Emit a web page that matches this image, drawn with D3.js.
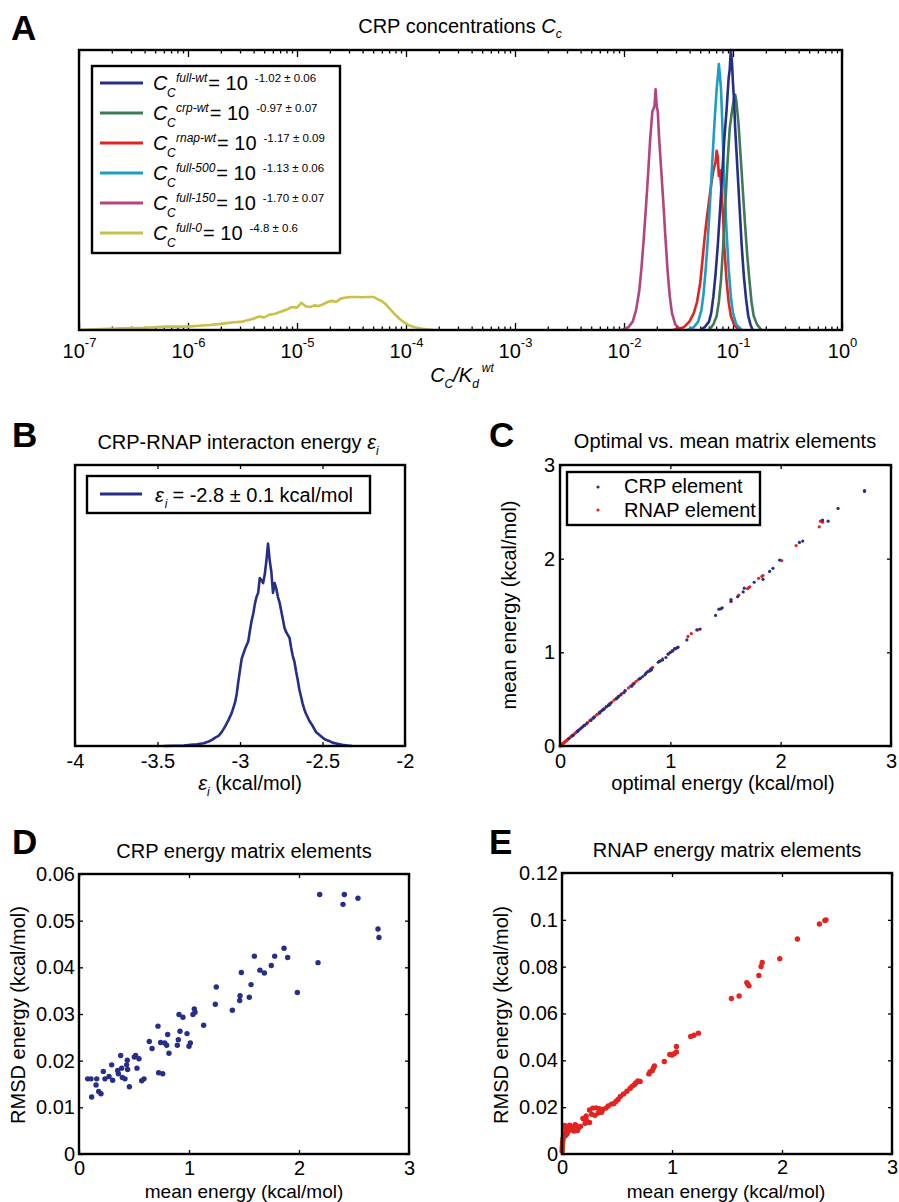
<!DOCTYPE html>
<html>
<head>
<meta charset="utf-8">
<script src="https://cdnjs.cloudflare.com/ajax/libs/d3/7.8.5/d3.min.js"></script>
<style>
  body { margin: 0; background: #fff; }
  svg { font-family: "Liberation Sans", Arial, Helvetica, sans-serif; }
</style>
</head>
<body>
<svg id="fig" width="899" height="1202"></svg>
<script>
// ---- data ----

// A: posterior of CRP concentration, x = log10(Cc/Kd), y = normalised density
const concNames = ["full-wt", "crp-wt", "rnap-wt", "full-500", "full-150", "full-0"];
const concExponents = ["-1.02 \u00b1 0.06", "-0.97 \u00b1 0.07", "-1.17 \u00b1 0.09",
                       "-1.13 \u00b1 0.06", "-1.70 \u00b1 0.07", "-4.8 \u00b1 0.6"];
const concTicks = [-7, -6, -5, -4, -3, -2, -1, 0];

const fullWt = [[-1.30,0.00],[-1.26,0.01],[-1.22,0.03],[-1.20,0.06],[-1.18,0.12],[-1.16,0.20],
  [-1.14,0.30],[-1.12,0.42],[-1.10,0.55],[-1.08,0.68],[-1.06,0.78],[-1.05,0.84],[-1.04,0.90],
  [-1.03,0.93],[-1.02,1.00],[-1.01,0.96],[-1.00,0.88],[-0.99,0.82],[-0.98,0.72],[-0.96,0.58],
  [-0.94,0.44],[-0.92,0.30],[-0.90,0.19],[-0.88,0.11],[-0.86,0.05],[-0.84,0.02],[-0.82,0.00]];
const crpWt = [[-1.22,0.00],[-1.18,0.02],[-1.15,0.05],[-1.13,0.10],[-1.11,0.18],[-1.09,0.30],
  [-1.07,0.45],[-1.05,0.60],[-1.03,0.72],[-1.01,0.78],[-0.99,0.83],[-0.98,0.84],[-0.97,0.82],
  [-0.96,0.78],[-0.95,0.74],[-0.93,0.62],[-0.91,0.50],[-0.89,0.38],[-0.87,0.27],[-0.85,0.18],
  [-0.83,0.10],[-0.81,0.05],[-0.78,0.02],[-0.74,0.00]];
const rnapWt = [[-1.55,0.00],[-1.45,0.01],[-1.40,0.03],[-1.36,0.06],[-1.33,0.10],[-1.30,0.17],
  [-1.28,0.25],[-1.26,0.33],[-1.24,0.40],[-1.22,0.46],[-1.20,0.52],[-1.18,0.57],[-1.16,0.60],
  [-1.15,0.64],[-1.14,0.62],[-1.13,0.55],[-1.12,0.57],[-1.11,0.52],[-1.10,0.46],[-1.09,0.40],
  [-1.08,0.30],[-1.06,0.18],[-1.04,0.10],[-1.02,0.05],[-0.99,0.02],[-0.95,0.00]];
const full500 = [[-1.42,0.00],[-1.36,0.01],[-1.32,0.03],[-1.29,0.07],[-1.27,0.13],[-1.25,0.22],
  [-1.23,0.33],[-1.21,0.46],[-1.19,0.60],[-1.17,0.74],[-1.16,0.80],[-1.15,0.86],[-1.14,0.90],
  [-1.13,0.95],[-1.12,0.91],[-1.11,0.86],[-1.10,0.76],[-1.09,0.64],[-1.08,0.52],[-1.06,0.36],
  [-1.04,0.22],[-1.02,0.12],[-1.00,0.06],[-0.97,0.02],[-0.92,0.00]];
const full150 = [[-2.02,0.00],[-1.96,0.01],[-1.92,0.03],[-1.89,0.07],[-1.86,0.14],[-1.84,0.22],
  [-1.82,0.32],[-1.80,0.43],[-1.78,0.55],[-1.76,0.68],[-1.74,0.78],[-1.72,0.80],[-1.71,0.86],
  [-1.70,0.80],[-1.69,0.78],[-1.68,0.70],[-1.66,0.58],[-1.64,0.46],[-1.62,0.33],[-1.60,0.21],
  [-1.58,0.12],[-1.56,0.06],[-1.53,0.02],[-1.48,0.00]];
const full0 = [[-7.00,0.000],[-6.80,0.003],[-6.60,0.006],[-6.40,0.008],[-6.20,0.012],[-6.00,0.012],
  [-5.90,0.015],[-5.80,0.018],[-5.70,0.022],[-5.60,0.027],[-5.50,0.030],[-5.40,0.040],[-5.35,0.048],
  [-5.30,0.045],[-5.25,0.055],[-5.20,0.058],[-5.15,0.065],[-5.10,0.072],[-5.05,0.082],[-5.00,0.080],
  [-4.96,0.097],[-4.92,0.085],[-4.88,0.082],[-4.84,0.088],[-4.80,0.086],[-4.76,0.092],[-4.72,0.100],
  [-4.68,0.104],[-4.64,0.100],[-4.60,0.112],[-4.55,0.116],[-4.50,0.118],[-4.45,0.118],[-4.40,0.117],
  [-4.35,0.118],[-4.30,0.118],[-4.26,0.110],[-4.22,0.103],[-4.18,0.090],[-4.14,0.072],[-4.10,0.055],
  [-4.06,0.040],[-4.02,0.028],[-3.98,0.018],[-3.92,0.010],[-3.85,0.004],[-3.75,0.000]];

// B: CRP-RNAP interaction energy posterior, [energy, normalised density]
const epsTicks = [-4, -3.5, -3, -2.5, -2];
const epsCurve = [[-3.46,0.000],[-3.40,0.001],[-3.34,0.002],[-3.30,0.004],[-3.26,0.006],[-3.22,0.010],
  [-3.19,0.016],[-3.17,0.022],[-3.15,0.030],[-3.13,0.036],[-3.11,0.050],[-3.09,0.070],[-3.07,0.092],
  [-3.05,0.118],[-3.03,0.155],[-3.02,0.185],[-3.01,0.230],[-3.00,0.270],[-2.99,0.310],[-2.97,0.345],
  [-2.95,0.372],[-2.94,0.410],[-2.93,0.445],[-2.92,0.470],[-2.91,0.505],[-2.90,0.530],[-2.89,0.545],
  [-2.88,0.598],[-2.87,0.590],[-2.86,0.580],[-2.85,0.610],[-2.84,0.660],[-2.83,0.720],[-2.82,0.660],
  [-2.81,0.620],[-2.80,0.545],[-2.79,0.580],[-2.78,0.560],[-2.77,0.530],[-2.76,0.510],[-2.75,0.480],
  [-2.74,0.450],[-2.73,0.420],[-2.72,0.405],[-2.70,0.385],[-2.69,0.350],[-2.68,0.320],[-2.67,0.300],
  [-2.66,0.265],[-2.65,0.235],[-2.64,0.200],[-2.63,0.175],[-2.62,0.150],[-2.61,0.130],[-2.60,0.115],
  [-2.58,0.090],[-2.56,0.072],[-2.54,0.050],[-2.52,0.040],[-2.50,0.030],[-2.48,0.022],[-2.46,0.018],
  [-2.44,0.012],[-2.41,0.008],[-2.38,0.004],[-2.35,0.002],[-2.32,0.000]];

// C/D/E: matrix elements, [optimal energy, mean energy, RMSD energy]
const energyTicks = [0, 1, 2, 3];
const crpRmsdTicks = [0, 0.01, 0.02, 0.03, 0.04, 0.05, 0.06];
const rnapRmsdTicks = [0, 0.02, 0.04, 0.06, 0.08, 0.1, 0.12];

const crpElements = [
  [0.08,0.079,0.0161],[0.11,0.109,0.0161],[0.12,0.115,0.0122],[0.16,0.161,0.0161],[0.16,0.155,0.0148],
  [0.18,0.179,0.0134],[0.20,0.200,0.0129],[0.22,0.221,0.0177],[0.24,0.236,0.0161],[0.28,0.273,0.0166],
  [0.30,0.297,0.0191],[0.31,0.306,0.0158],[0.36,0.352,0.0179],[0.36,0.358,0.0172],[0.38,0.379,0.0211],
  [0.39,0.388,0.0184],[0.40,0.394,0.0164],[0.42,0.418,0.0161],[0.44,0.433,0.0191],[0.44,0.439,0.0201],
  [0.45,0.442,0.0181],[0.46,0.458,0.0144],[0.51,0.503,0.0208],[0.52,0.515,0.0211],[0.53,0.527,0.0184],
  [0.55,0.545,0.0204],[0.58,0.570,0.0157],[0.59,0.591,0.0161],[0.65,0.639,0.0241],[0.67,0.664,0.0226],
  [0.72,0.718,0.0274],[0.73,0.724,0.0174],[0.75,0.742,0.0239],[0.77,0.761,0.0172],[0.78,0.779,0.0238],
  [0.80,0.797,0.0233],[0.82,0.806,0.0256],[0.83,0.818,0.0216],[0.89,0.894,0.0233],[0.90,0.903,0.0245],
  [0.91,0.909,0.0299],[0.93,0.918,0.0263],[0.96,0.945,0.0293],[0.98,0.982,0.0258],[1.00,1.000,0.0231],
  [1.02,1.012,0.0238],[1.04,1.036,0.0299],[1.06,1.048,0.0311],[1.07,1.055,0.0304],[1.15,1.133,0.0276],
  [1.24,1.239,0.0321],[1.27,1.248,0.0358],[1.41,1.394,0.0308],[1.44,1.461,0.0329],[1.46,1.464,0.0339],
  [1.47,1.476,0.0389],[1.55,1.548,0.0336],[1.55,1.564,0.0363],[1.61,1.594,0.0424],[1.66,1.645,0.0394],
  [1.67,1.685,0.0388],[1.76,1.748,0.0404],[1.84,1.779,0.0424],[1.90,1.864,0.0441],[1.93,1.897,0.0421],
  [1.99,1.985,0.0346],[2.17,2.173,0.0410],[2.20,2.188,0.0556],[2.38,2.412,0.0556],[2.43,2.400,0.0535],
  [2.52,2.536,0.0548],[2.76,2.718,0.0482],[2.76,2.727,0.0464]];

const rnapElements = [
  [2.36,2.40,0.1000],[2.38,2.39,0.0997],[2.35,2.34,0.0982],[2.14,2.14,0.0918],[2.01,1.98,0.0834],
  [1.84,1.82,0.0818],[1.83,1.81,0.0801],[1.80,1.79,0.0762],[1.72,1.70,0.0718],[1.71,1.69,0.0725],
  [1.70,1.68,0.0732],[1.62,1.61,0.0675],[1.55,1.54,0.0664],[1.25,1.24,0.0516],[1.19,1.20,0.0507],
  [1.16,1.17,0.0502],[1.05,1.04,0.0459],[1.04,1.04,0.0436],[1.02,1.02,0.0428],[1.00,1.00,0.0423],
  [0.98,0.98,0.0425],[0.93,0.93,0.0395],[0.84,0.84,0.0376],[0.83,0.83,0.0366],[0.82,0.82,0.0356],
  [0.81,0.80,0.0350],[0.79,0.79,0.0342],[0.71,0.71,0.0310],[0.69,0.69,0.0312],[0.67,0.67,0.0303],
  [0.66,0.66,0.0297],[0.64,0.64,0.0290],[0.62,0.62,0.0281],[0.59,0.59,0.0268],[0.56,0.56,0.0256],
  [0.53,0.53,0.0246],[0.51,0.51,0.0233],[0.49,0.49,0.0224],[0.45,0.45,0.0213],[0.40,0.40,0.0196],
  [0.37,0.37,0.0190],[0.36,0.36,0.0178],[0.34,0.34,0.0193],[0.31,0.31,0.0197],[0.28,0.28,0.0196],
  [0.25,0.25,0.0188],[0.27,0.27,0.0170],[0.22,0.22,0.0163],[0.19,0.19,0.0152],[0.22,0.22,0.0145],
  [0.25,0.25,0.0135],[0.21,0.21,0.0131],[0.17,0.17,0.0118],[0.15,0.15,0.0111],[0.13,0.13,0.0121],
  [0.12,0.12,0.0125],[0.10,0.10,0.0112],[0.09,0.09,0.0102],[0.08,0.08,0.0118],[0.07,0.07,0.0123],
  [0.06,0.06,0.0108],[0.055,0.055,0.0096],[0.045,0.045,0.0115],[0.04,0.04,0.0104],[0.03,0.03,0.0112],
  [0.025,0.025,0.0122],[0.02,0.02,0.0090],[0.015,0.015,0.0080],[0.01,0.01,0.0068],[0.008,0.008,0.0058],
  [0.005,0.005,0.0046],[0.003,0.003,0.0032],[0.002,0.002,0.0022],[0.001,0.001,0.0012],[0.03,0.03,0.0078],
  [0.045,0.045,0.0085],[0.11,0.11,0.0098],[0.14,0.14,0.0100],[0.30,0.30,0.0165],[0.33,0.33,0.0175],
  [0.42,0.42,0.0205],[0.47,0.47,0.0215]];

// ---- styles ----
const concColors = ["#252f87", "#3f7a58", "#e2231f", "#1c9dc2", "#b4447f", "#c9c04a"];
const blue = "#252f87", red = "#e2231f";
const FF = '"Liberation Sans", Arial, Helvetica, sans-serif';

const svg = d3.select("#fig");

// helpers
function frame(g, w, h) {
  g.append("rect").attr("width", w).attr("height", h)
    .attr("fill", "none").attr("stroke", "#000").attr("stroke-width", 2.4);
}
function styleAxis(sel, size) {
  sel.attr("font-family", FF).attr("font-size", size || 20);
  sel.select(".domain").remove();
  sel.selectAll(".tick line").attr("stroke-width", 1.3);
}
// matlab style box: inward ticks on all four sides, labels bottom/left
function boxAxes(g, x, y, w, h, xt, yt, opt) {
  const len = opt.len || 4;
  g.append("g").attr("transform", `translate(0,${h})`)
    .call(d3.axisBottom(x).tickValues(xt).tickSizeInner(-len).tickSizeOuter(0)
      .tickPadding(opt.xpad).tickFormat(opt.xfmt || (d => String(d))))
    .call(s => styleAxis(s));
  g.append("g")
    .call(d3.axisTop(x).tickValues(xt).tickSizeInner(-len).tickSizeOuter(0).tickFormat(""))
    .call(s => styleAxis(s));
  if (yt) {
    g.append("g")
      .call(d3.axisLeft(y).tickValues(yt).tickSizeInner(-len).tickSizeOuter(0)
        .tickPadding(opt.ypad).tickFormat(opt.yfmt || (d => String(d))))
      .call(s => styleAxis(s));
    g.append("g").attr("transform", `translate(${w},0)`)
      .call(d3.axisRight(y).tickValues(yt).tickSizeInner(-len).tickSizeOuter(0).tickFormat(""))
      .call(s => styleAxis(s));
  }
}
function letter(x, y, s) {
  svg.append("text").attr("x", x).attr("y", y).attr("font-size", 35)
    .attr("font-weight", "bold").text(s);
}
function title(x, y, s, size) {
  return svg.append("text").attr("x", x).attr("y", y).attr("text-anchor", "middle")
    .attr("font-size", size || 20).text(s);
}
function ylabel(x, y, s) {
  svg.append("text").attr("transform", `translate(${x},${y}) rotate(-90)`)
    .attr("text-anchor", "middle").attr("font-size", 20).text(s);
}
const fmt = d => String(+d.toFixed(2));

// ================= A =================
const aW = 763, aH = 280;
const gA = svg.append("g").attr("transform", "translate(79,50)");
const concX = d3.scaleLog().domain([1e-7, 1]).range([0, aW]);
const concY = d3.scaleLinear().domain([0, 1]).range([aH, 0]);

const decadeVals = concTicks.map(e => Math.pow(10, e));
const minorVals = concX.ticks().filter(t => Math.abs(Math.log10(t) - Math.round(Math.log10(t))) > 1e-6);

gA.append("g").attr("transform", `translate(0,${aH})`)
  .call(d3.axisBottom(concX).tickValues(decadeVals).tickSizeInner(-7).tickSizeOuter(0).tickPadding(14))
  .call(s => styleAxis(s))
  .call(s => s.selectAll(".tick text").each(function (d) {
    const t = d3.select(this).text(null);
    t.append("tspan").text("10");
    t.append("tspan").attr("dy", -11).attr("font-size", 13).text(Math.round(Math.log10(d)));
  }));
gA.append("g").attr("transform", `translate(0,${aH})`)
  .call(d3.axisBottom(concX).tickValues(minorVals).tickSizeInner(-3.5).tickSizeOuter(0).tickFormat(""))
  .call(s => styleAxis(s));
gA.append("g")
  .call(d3.axisTop(concX).tickValues(decadeVals).tickSizeInner(-7).tickSizeOuter(0).tickFormat(""))
  .call(s => styleAxis(s));
gA.append("g")
  .call(d3.axisTop(concX).tickValues(minorVals).tickSizeInner(-3.5).tickSizeOuter(0).tickFormat(""))
  .call(s => styleAxis(s));

const concLine = d3.line().x(d => concX(Math.pow(10, d[0]))).y(d => concY(d[1]));
const concSeries = [fullWt, crpWt, rnapWt, full500, full150, full0];
[5, 4, 2, 3, 1, 0].forEach(i => {
  gA.append("path").datum(concSeries[i]).attr("d", concLine)
    .attr("fill", "none").attr("stroke", concColors[i]).attr("stroke-width", 2.6)
    .attr("stroke-linejoin", "round");
});
frame(gA, aW, aH);

// legend A
const legA = gA.append("g").attr("transform", "translate(13,16)");
legA.append("rect").attr("width", 248).attr("height", 187)
  .attr("fill", "#fff").attr("stroke", "#000").attr("stroke-width", 2.4);
concNames.forEach((name, i) => {
  const yy = 24 + i * 30;
  legA.append("line").attr("x1", 8).attr("x2", 51).attr("y1", yy - 7).attr("y2", yy - 7)
    .attr("stroke", concColors[i]).attr("stroke-width", 3);
  legA.append("text").attr("x", 61).attr("y", yy).attr("font-size", 20)
    .attr("font-style", "italic").text("C");
  legA.append("text").attr("x", 75).attr("y", yy + 7).attr("font-size", 12)
    .attr("font-style", "italic").text("C");
  const sup = legA.append("text").attr("x", 84).attr("y", yy - 8).attr("font-size", 12)
    .attr("font-style", "italic").text(name);
  const eqX = 84 + sup.node().getComputedTextLength() + 1;
  const eq = legA.append("text").attr("x", eqX).attr("y", yy).attr("font-size", 20).text("= 10");
  legA.append("text").attr("x", eqX + eq.node().getComputedTextLength() + 7).attr("y", yy - 8)
    .attr("font-size", 11.5).text(concExponents[i]);
});

letter(11, 40, "A");
const tA = title(460, 33, "CRP concentrations ");
tA.append("tspan").attr("font-style", "italic").text("C");
tA.append("tspan").attr("font-style", "italic").attr("font-size", 12).attr("dy", 5).text("c");

const xlA = svg.append("text").attr("x", 462).attr("y", 382).attr("text-anchor", "middle")
  .attr("font-size", 20).attr("font-style", "italic");
xlA.append("tspan").text("C");
xlA.append("tspan").attr("font-size", 12).attr("dy", 6).text("C");
xlA.append("tspan").attr("dy", -6).text("/K");
xlA.append("tspan").attr("font-size", 12).attr("dy", 6).text("d");
xlA.append("tspan").attr("font-size", 12).attr("dx", 3).attr("dy", -16).text("wt");

// ================= B =================
const bW = 330, bH = 281;
const gB = svg.append("g").attr("transform", "translate(75,465)");
const epsX = d3.scaleLinear().domain([-4, -2]).range([0, bW]);
const epsY = d3.scaleLinear().domain([0, 1]).range([bH, 0]);
gB.append("g").attr("transform", `translate(0,${bH})`)
  .call(d3.axisBottom(epsX).tickValues(epsTicks).tickSizeInner(-4).tickSizeOuter(0)
    .tickPadding(8).tickFormat(d => String(d)))
  .call(s => styleAxis(s));
gB.append("g")
  .call(d3.axisTop(epsX).tickValues(epsTicks).tickSizeInner(-4).tickSizeOuter(0).tickFormat(""))
  .call(s => styleAxis(s));
gB.append("path").datum(epsCurve)
  .attr("d", d3.line().x(d => epsX(d[0])).y(d => epsY(d[1])))
  .attr("fill", "none").attr("stroke", blue).attr("stroke-width", 2.6).attr("stroke-linejoin", "round");
frame(gB, bW, bH);

const legB = gB.append("g").attr("transform", "translate(12,11)");
legB.append("rect").attr("width", 283).attr("height", 37)
  .attr("fill", "#fff").attr("stroke", "#000").attr("stroke-width", 2.4);
legB.append("line").attr("x1", 13).attr("x2", 55).attr("y1", 18).attr("y2", 18)
  .attr("stroke", blue).attr("stroke-width", 3);
const lbt = legB.append("text").attr("x", 68).attr("y", 26).attr("font-size", 20);
lbt.append("tspan").attr("font-style", "italic").text("\u03b5");
lbt.append("tspan").attr("font-style", "italic").attr("font-size", 12).attr("dx", 1).attr("dy", 6).text("i");
lbt.append("tspan").attr("dy", -6).attr("dx", 5).text("= -2.8 \u00b1 0.1 kcal/mol");

letter(12, 447, "B");
const tB = title(238, 449, "CRP-RNAP interacton energy ");
tB.append("tspan").attr("font-style", "italic").text("\u03b5");
tB.append("tspan").attr("font-style", "italic").attr("font-size", 12).attr("dy", 6).text("i");
const xlB = svg.append("text").attr("x", 250).attr("y", 790).attr("text-anchor", "middle").attr("font-size", 20);
xlB.append("tspan").attr("font-style", "italic").text("\u03b5");
xlB.append("tspan").attr("font-style", "italic").attr("font-size", 12).attr("dy", 6).text("i");
xlB.append("tspan").attr("dy", -6).text(" (kcal/mol)");

// ================= C =================
const cW = 331, cH = 281;
const gC = svg.append("g").attr("transform", "translate(560,465)");
const optX = d3.scaleLinear().domain([0, 3]).range([0, cW]);
const meanY = d3.scaleLinear().domain([0, 3]).range([cH, 0]);
boxAxes(gC, optX, meanY, cW, cH, energyTicks, energyTicks, { xpad: 8, ypad: 5 });
gC.append("g").selectAll("circle").data(rnapElements).join("circle")
  .attr("cx", d => optX(d[0])).attr("cy", d => meanY(d[1])).attr("r", 1.6).attr("fill", red);
gC.append("g").selectAll("circle").data(crpElements).join("circle")
  .attr("cx", d => optX(d[0])).attr("cy", d => meanY(d[1])).attr("r", 1.6).attr("fill", blue);
frame(gC, cW, cH);

const legC = gC.append("g").attr("transform", "translate(7,7)");
legC.append("rect").attr("width", 193).attr("height", 53)
  .attr("fill", "#fff").attr("stroke", "#000").attr("stroke-width", 2.4);
[["CRP element", blue], ["RNAP element", red]].forEach((e, i) => {
  legC.append("circle").attr("cx", 31).attr("cy", 15 + i * 23).attr("r", 1.6).attr("fill", e[1]);
  legC.append("text").attr("x", 57).attr("y", 21 + i * 24).attr("font-size", 20).text(e[0]);
});

letter(489, 447, "C");
title(725, 448, "Optimal vs. mean matrix elements");
title(723, 790, "optimal energy (kcal/mol)");
ylabel(516, 605, "mean energy (kcal/mol)");

// ================= D =================
const dW = 330, dH = 280;
const gD = svg.append("g").attr("transform", "translate(79,874)");
const dX = d3.scaleLinear().domain([0, 3]).range([0, dW]);
const dY = d3.scaleLinear().domain([0, 0.06]).range([dH, 0]);
boxAxes(gD, dX, dY, dW, dH, energyTicks, crpRmsdTicks, { xpad: 7, ypad: 4, yfmt: fmt });
gD.append("g").selectAll("circle").data(crpElements).join("circle")
  .attr("cx", d => dX(d[1])).attr("cy", d => dY(d[2])).attr("r", 2.7).attr("fill", blue);
frame(gD, dW, dH);

letter(12, 854, "D");
title(244, 858, "CRP energy matrix elements");
title(244, 1198, "mean energy (kcal/mol)", 19);
ylabel(25, 1015, "RMSD energy (kcal/mol)");

// ================= E =================
const eW = 330, eH = 281;
const gE = svg.append("g").attr("transform", "translate(562,873)");
const eX = d3.scaleLinear().domain([0, 3]).range([0, eW]);
const eY = d3.scaleLinear().domain([0, 0.12]).range([eH, 0]);
boxAxes(gE, eX, eY, eW, eH, energyTicks, rnapRmsdTicks, { xpad: 6, ypad: 4, yfmt: fmt });
gE.append("g").selectAll("circle").data(rnapElements).join("circle")
  .attr("cx", d => eX(d[1])).attr("cy", d => eY(d[2])).attr("r", 2.7).attr("fill", red);
frame(gE, eW, eH);

letter(489, 854, "E");
title(727, 857, "RNAP energy matrix elements");
title(726, 1198, "mean energy (kcal/mol)", 19);
ylabel(508, 1015, "RMSD energy (kcal/mol)");
</script>
</body>
</html>
